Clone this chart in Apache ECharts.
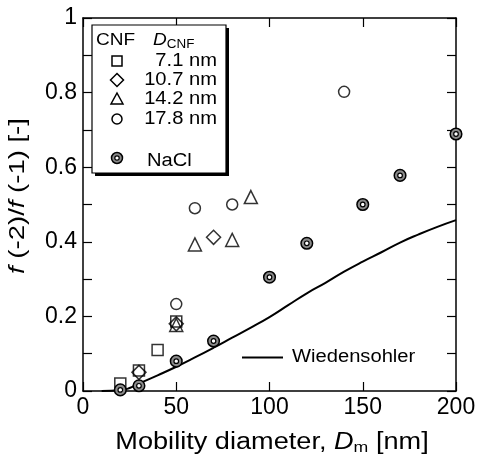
<!DOCTYPE html>
<html><head><meta charset="utf-8">
<script src="https://cdn.jsdelivr.net/npm/echarts@6/dist/echarts.min.js"></script>
<style>html,body{margin:0;padding:0;background:#fff}#c{width:479px;height:460px}</style>
</head><body><div id="c"></div>
<script>
// Data (x = mobility diameter nm, y = f(-2)/f(-1))
const cnf71 = [[20,0.02],[30,0.055],[40,0.11],[50,0.186]];
const cnf107 = [[30,0.05],[50,0.18],[70,0.412]];
const cnf142 = [[50,0.177],[60,0.393],[80,0.405],[90,0.52]];
const cnf178 = [[50,0.233],[60,0.49],[80,0.50],[140,0.802]];
const nacl = [[20,0.003],[30,0.014],[50,0.08],[70,0.134],[100,0.305],[120,0.396],[150,0.50],[170,0.578],[200,0.689]];
const wiedensohler = [[10,0],[20,0.002],[25,0.008],[30,0.02],[40,0.042],[50,0.065],[60,0.09],[70,0.116],[80,0.143],[90,0.17],[100,0.198],[110,0.23],[120,0.262],[130,0.29],[140,0.32],[150,0.347],[160,0.372],[170,0.398],[180,0.42],[190,0.44],[200,0.458]];
const xTicks = [0,50,100,150,200];
const yTicks = [0,0.2,0.4,0.6,0.8,1];

const FONT = 'Liberation Sans, Arial, sans-serif';
const chart = echarts.init(document.getElementById('c'), null, {renderer:'canvas'});
const hollow = {color:'rgba(0,0,0,0)', borderColor:'#000', borderWidth:1.5};
function sc(name,data,symbol,size){
  return {name, type:'scatter', data, symbol, symbolSize:size, itemStyle:hollow, clip:false, z:5};
}
const axLine = {show:true, onZero:false, lineStyle:{color:'#000', width:1.5}};
const tickIn = {show:true, inside:true, length:9, lineStyle:{color:'#000', width:1.2}};
const LS = 1.12; // horizontal stretch of legend texts
chart.setOption({
  animation:false,
  grid:{left:83, right:23, top:18, bottom:69},
  xAxis:[
    {type:'value', min:0, max:200, interval:50, axisLine:axLine, axisTick:tickIn, splitLine:{show:false},
     axisLabel:{color:'#000', fontSize:23, fontFamily:FONT, margin:5, formatter:v=>xTicks.includes(v)?String(v):''}},
    {type:'value', position:'top', min:0, max:200, interval:50, axisLine:axLine, axisTick:tickIn, axisLabel:{show:false}, splitLine:{show:false}}
  ],
  yAxis:[
    {type:'value', min:0, max:1, interval:0.2, axisLine:axLine, axisTick:tickIn,
     minorTick:{show:true, splitNumber:2, length:9, lineStyle:{color:'#000', width:1.2}},
     splitLine:{show:false},
     axisLabel:{color:'#000', fontSize:23, fontFamily:FONT, margin:6, formatter:v=>{const r=Math.round(v*10)/10; return yTicks.some(t=>Math.abs(t-r)<1e-9)?String(r):'';}}},
    {type:'value', position:'right', min:0, max:1, interval:0.1, axisLine:axLine, axisTick:tickIn, axisLabel:{show:false}, splitLine:{show:false}}
  ],
  series:[
    {name:'Wiedensohler', type:'line', data:wiedensohler, showSymbol:false, smooth:true, lineStyle:{color:'#000', width:2}, z:2, clip:false},
    {name:'NaCl', type:'custom', data:nacl, clip:false, z:6, renderItem:function(params, api){
      const p = api.coord([api.value(0), api.value(1)]);
      return {type:'group', children:[
        {type:'circle', shape:{cx:p[0], cy:p[1], r:5.8}, style:{fill:'#8a8a8a', stroke:'#000', lineWidth:1.5}},
        {type:'circle', shape:{cx:p[0], cy:p[1], r:2.3}, style:{fill:'#fff', stroke:'#000', lineWidth:1.2}}
      ]};
    }},
    sc('7.1 nm', cnf71, 'rect', 11),
    sc('10.7 nm', cnf107, 'diamond', 14),
    sc('14.2 nm', cnf142, 'triangle', 13),
    sc('17.8 nm', cnf178, 'circle', 11)
  ],
  graphic:[
    // axis titles
    {type:'text', x:272, y:443, scaleX:1.18, style:{text:'{n|Mobility diameter, }{i|D}{s|m}{n| [nm]}', align:'center', verticalAlign:'middle',
      rich:{n:{font:'23px '+FONT, fill:'#000'}, i:{font:'italic 23px '+FONT, fill:'#000'}, s:{font:'15px '+FONT, fill:'#000', padding:[9,0,0,0]}}}, z:12},
    {type:'text', x:18, y:196, rotation:Math.PI/2, scaleX:1.25, style:{text:'{i|f} (-2)/{i|f} (-1) [-]', align:'center', verticalAlign:'middle',
      rich:{i:{font:'italic 22px '+FONT, fill:'#000'}}, font:'22px '+FONT, fill:'#000'}, z:12},
    // legend box
    {type:'rect', shape:{x:95, y:28, width:134, height:148}, style:{fill:'#000'}, z:10},
    {type:'rect', shape:{x:92, y:25, width:134, height:148}, style:{fill:'#fff', stroke:'#000', lineWidth:1.2}, z:11},
    {type:'text', x:96, y:40, scaleX:LS, style:{text:'CNF', font:'17px '+FONT, fill:'#000', verticalAlign:'middle'}, z:12},
    {type:'text', x:153, y:40, scaleX:LS, style:{text:'{i|D}{s|CNF}', fill:'#000', verticalAlign:'middle',
      rich:{i:{font:'italic 17px '+FONT, fill:'#000'}, s:{font:'12px '+FONT, fill:'#000', padding:[9,0,0,0]}}}, z:12},
    {type:'rect', shape:{x:112, y:56, width:10, height:10}, style:{fill:'none', stroke:'#000', lineWidth:1.5}, z:12},
    {type:'polygon', shape:{points:[[117,73.5],[123.5,80],[117,86.5],[110.5,80]]}, style:{fill:'none', stroke:'#000', lineWidth:1.5}, z:12},
    {type:'polygon', shape:{points:[[117,93],[123,104],[111,104]]}, style:{fill:'none', stroke:'#000', lineWidth:1.5}, z:12},
    {type:'circle', shape:{cx:117, cy:119, r:5}, style:{fill:'none', stroke:'#000', lineWidth:1.5}, z:12},
    {type:'circle', shape:{cx:117, cy:158, r:5.5}, style:{fill:'#8a8a8a', stroke:'#000', lineWidth:1.5}, z:12},
    {type:'circle', shape:{cx:117, cy:158, r:2.2}, style:{fill:'#fff', stroke:'#000', lineWidth:1.2}, z:13},
    {type:'text', x:217, y:61, scaleX:LS, style:{text:'7.1 nm', font:'18px '+FONT, fill:'#000', align:'right', verticalAlign:'middle'}, z:12},
    {type:'text', x:217, y:80, scaleX:LS, style:{text:'10.7 nm', font:'18px '+FONT, fill:'#000', align:'right', verticalAlign:'middle'}, z:12},
    {type:'text', x:217, y:99.5, scaleX:LS, style:{text:'14.2 nm', font:'18px '+FONT, fill:'#000', align:'right', verticalAlign:'middle'}, z:12},
    {type:'text', x:217, y:119, scaleX:LS, style:{text:'17.8 nm', font:'18px '+FONT, fill:'#000', align:'right', verticalAlign:'middle'}, z:12},
    {type:'text', x:147, y:161, scaleX:LS, style:{text:'NaCl', font:'18px '+FONT, fill:'#000', verticalAlign:'middle'}, z:12},
    // Wiedensohler key
    {type:'line', shape:{x1:242, y1:357.5, x2:283, y2:357.5}, style:{stroke:'#000', lineWidth:2}, z:12},
    {type:'text', x:292, y:357.5, scaleX:LS, style:{text:'Wiedensohler', font:'18px '+FONT, fill:'#000', verticalAlign:'middle'}, z:12}
  ]
});
</script></body></html>
